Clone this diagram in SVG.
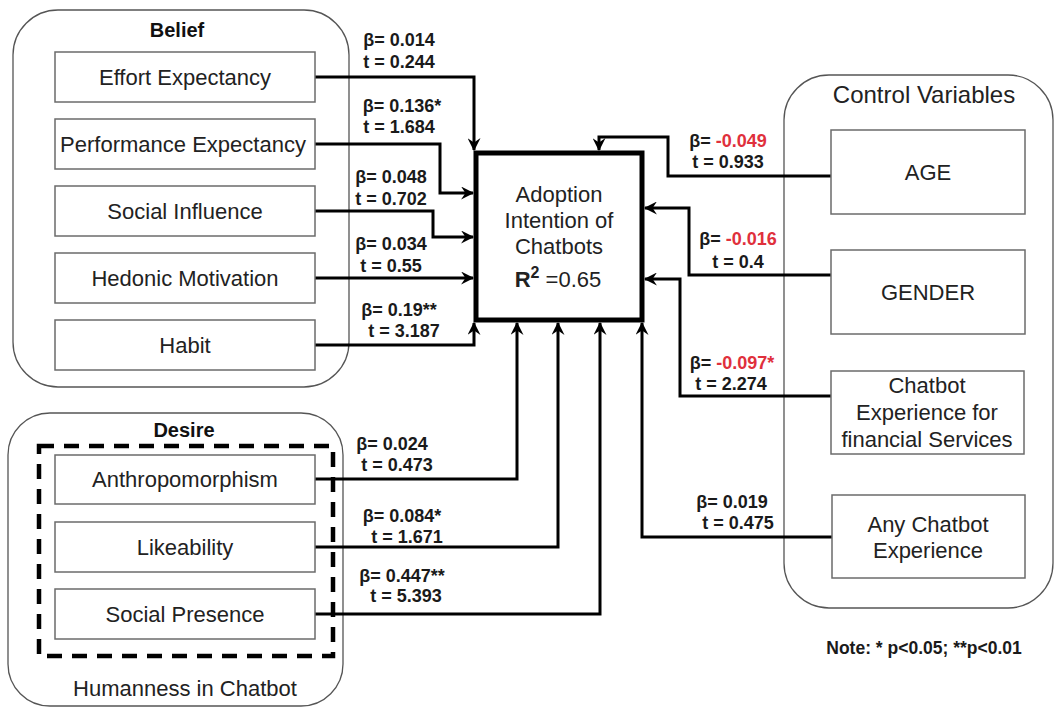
<svg xmlns="http://www.w3.org/2000/svg" width="1054" height="709" viewBox="0 0 1054 709">
<style>
  .container{fill:#fff;stroke:#555;stroke-width:1.3}
  .box{fill:#fff;stroke:#6b6b6b;stroke-width:1.5}
  .btxt{font-family:"Liberation Sans",Arial,sans-serif;font-size:22px;fill:#222;text-anchor:middle}
  .title{font-family:"Liberation Sans",Arial,sans-serif;font-size:20px;font-weight:bold;fill:#111;text-anchor:middle}
  .lbl{font-family:"Liberation Sans",Arial,sans-serif;font-size:18px;font-weight:bold;fill:#1a1a1a;text-anchor:middle}
  .neg{fill:#e0303c}
  .conn{fill:none;stroke:#000;stroke-width:3;marker-end:url(#arr)}
  .dash{fill:none;stroke:#000;stroke-width:4.5;stroke-dasharray:15 10}
  .center{fill:#fff;stroke:#000;stroke-width:5}
</style>
<defs>
  <marker id="arr" viewBox="0 0 12 12" refX="11" refY="6" markerWidth="13" markerHeight="13" markerUnits="userSpaceOnUse" orient="auto">
    <path d="M0,0 L12,6 L0,12 L4,6 z" fill="#000"/>
  </marker>
</defs>
<rect width="1054" height="709" fill="#fff"/>

<g id="belief">
  <rect class="container" x="13" y="10" width="336" height="377" rx="45" ry="45"/>
  <text class="title" x="177" y="37">Belief</text>
</g>
<g id="desire">
  <rect class="container" x="8" y="413" width="335" height="293" rx="42" ry="42"/>
  <text class="title" x="184" y="437">Desire</text>
  <rect class="dash" x="39" y="446" width="294" height="210"/>
  <text class="btxt" x="185" y="696">Humanness in Chatbot</text>
</g>
<g id="control">
  <rect class="container" x="784" y="75" width="269" height="533" rx="45" ry="45"/>
  <text class="btxt" x="924" y="103" style="font-size:24px">Control Variables</text>
</g>

<g id="connectors">
  <polyline class="conn" points="315,77 474,77 474,150"/>
  <polyline class="conn" points="315,144 440,144 440,193 473,193"/>
  <polyline class="conn" points="315,211 433,211 433,237 473,237"/>
  <polyline class="conn" points="315,278 473,278"/>
  <polyline class="conn" points="315,345 474,345 474,323"/>
  <polyline class="conn" points="315,479 517,479 517,323"/>
  <polyline class="conn" points="315,547 558,547 558,323"/>
  <polyline class="conn" points="315,614 600,614 600,323"/>
  <polyline class="conn" points="832,537 642,537 642,323"/>
  <polyline class="conn" points="831,396 680,396 680,279 645,279"/>
  <polyline class="conn" points="831,275 689,275 689,208 645,208"/>
  <polyline class="conn" points="831,176 668,176 668,137 599,137 599,150"/>
</g>

<g id="effort"><rect class="box" x="55" y="52" width="260" height="50"/><text class="btxt" x="185" y="85">Effort Expectancy</text></g>
<g id="performance"><rect class="box" x="55" y="119" width="260" height="50"/><text class="btxt" x="183" y="152">Performance Expectancy</text></g>
<g id="social-influence"><rect class="box" x="55" y="186" width="260" height="50"/><text class="btxt" x="185" y="219">Social Influence</text></g>
<g id="hedonic"><rect class="box" x="55" y="253" width="260" height="50"/><text class="btxt" x="185" y="286">Hedonic Motivation</text></g>
<g id="habit"><rect class="box" x="55" y="320" width="260" height="50"/><text class="btxt" x="185" y="353">Habit</text></g>

<g id="anthropomorphism"><rect class="box" x="55" y="455" width="260" height="49"/><text class="btxt" x="185" y="487">Anthropomorphism</text></g>
<g id="likeability"><rect class="box" x="55" y="522" width="260" height="50"/><text class="btxt" x="185" y="555">Likeability</text></g>
<g id="social-presence"><rect class="box" x="55" y="589" width="260" height="50"/><text class="btxt" x="185" y="622">Social Presence</text></g>

<g id="age"><rect class="box" x="831" y="130" width="194" height="84"/><text class="btxt" x="928" y="180">AGE</text></g>
<g id="gender"><rect class="box" x="831" y="250" width="194" height="84"/><text class="btxt" x="928" y="300">GENDER</text></g>
<g id="chatbot-fin"><rect class="box" x="831" y="371" width="193" height="83"/>
  <text class="btxt" x="927" y="393">Chatbot</text>
  <text class="btxt" x="927" y="420">Experience for</text>
  <text class="btxt" x="927" y="447">financial Services</text></g>
<g id="any-chatbot"><rect class="box" x="832" y="495" width="193" height="83"/>
  <text class="btxt" x="928" y="532">Any Chatbot</text>
  <text class="btxt" x="928" y="558">Experience</text></g>

<g id="adoption">
  <rect class="center" x="476" y="153" width="166" height="167"/>
  <text class="btxt" x="559" y="202">Adoption</text>
  <text class="btxt" x="559" y="228">Intention of</text>
  <text class="btxt" x="559" y="254">Chatbots</text>
  <text class="btxt" x="558" y="287"><tspan font-weight="bold">R</tspan><tspan font-weight="bold" font-size="16" dy="-9">2</tspan><tspan dy="9"> =0.65</tspan></text>
</g>

<g id="labels">
  <text class="lbl" x="399" y="46">β= 0.014</text>
  <text class="lbl" x="399" y="68">t = 0.244</text>
  <text class="lbl" x="402" y="112">β= 0.136*</text>
  <text class="lbl" x="399" y="133">t = 1.684</text>
  <text class="lbl" x="391" y="183">β= 0.048</text>
  <text class="lbl" x="391" y="205">t = 0.702</text>
  <text class="lbl" x="391" y="250">β= 0.034</text>
  <text class="lbl" x="391" y="272">t = 0.55</text>
  <text class="lbl" x="399" y="316">β= 0.19**</text>
  <text class="lbl" x="404" y="337">t = 3.187</text>
  <text class="lbl" x="392" y="450">β= 0.024</text>
  <text class="lbl" x="397" y="471">t = 0.473</text>
  <text class="lbl" x="402" y="522">β= 0.084*</text>
  <text class="lbl" x="407" y="543">t = 1.671</text>
  <text class="lbl" x="402" y="582">β= 0.447**</text>
  <text class="lbl" x="406" y="602">t = 5.393</text>
  <text class="lbl" x="728" y="147">β= <tspan class="neg">-0.049</tspan></text>
  <text class="lbl" x="728" y="168">t = 0.933</text>
  <text class="lbl" x="738" y="245">β= <tspan class="neg">-0.016</tspan></text>
  <text class="lbl" x="738" y="268">t = 0.4</text>
  <text class="lbl" x="732" y="369">β= <tspan class="neg">-0.097*</tspan></text>
  <text class="lbl" x="731" y="390">t = 2.274</text>
  <text class="lbl" x="732" y="508">β= 0.019</text>
  <text class="lbl" x="738" y="529">t = 0.475</text>
</g>

<g id="note">
  <text class="lbl" x="924" y="654" style="font-size:17.5px">Note: * p&lt;0.05; **p&lt;0.01</text>
</g>
</svg>
